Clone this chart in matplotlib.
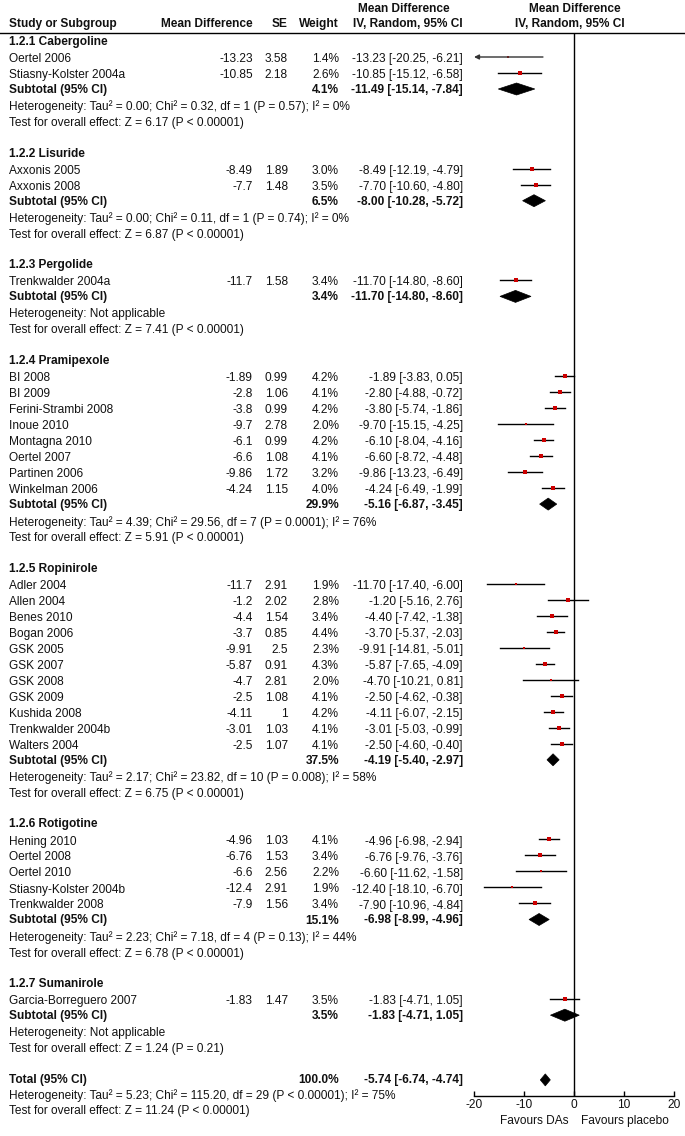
import matplotlib
matplotlib.use('Agg')
import matplotlib.pyplot as plt
from matplotlib.patches import Polygon
import numpy as np

plt.rcParams['font.family'] = ['Liberation Sans Narrow', 'Liberation Sans', 'DejaVu Sans']
plt.rcParams['axes.unicode_minus'] = False

# ---- data ----
group_titles = ['1.2.1 Cabergoline', '1.2.2 Lisuride', '1.2.3 Pergolide', '1.2.4 Pramipexole',
                '1.2.5 Ropinirole', '1.2.6 Rotigotine', '1.2.7 Sumanirole']

study_group = [0, 0,
               1, 1,
               2,
               3, 3, 3, 3, 3, 3, 3, 3,
               4, 4, 4, 4, 4, 4, 4, 4, 4, 4, 4,
               5, 5, 5, 5, 5,
               6]
study_name = ['Oertel 2006', 'Stiasny-Kolster 2004a',
              'Axxonis 2005', 'Axxonis 2008',
              'Trenkwalder 2004a',
              'BI 2008', 'BI 2009', 'Ferini-Strambi 2008', 'Inoue 2010', 'Montagna 2010',
              'Oertel 2007', 'Partinen 2006', 'Winkelman 2006',
              'Adler 2004', 'Allen 2004', 'Benes 2010', 'Bogan 2006', 'GSK 2005', 'GSK 2007',
              'GSK 2008', 'GSK 2009', 'Kushida 2008', 'Trenkwalder 2004b', 'Walters 2004',
              'Hening 2010', 'Oertel 2008', 'Oertel 2010', 'Stiasny-Kolster 2004b', 'Trenkwalder 2008',
              'Garcia-Borreguero 2007']
md = [-13.23, -10.85,
      -8.49, -7.7,
      -11.7,
      -1.89, -2.8, -3.8, -9.7, -6.1, -6.6, -9.86, -4.24,
      -11.7, -1.2, -4.4, -3.7, -9.91, -5.87, -4.7, -2.5, -4.11, -3.01, -2.5,
      -4.96, -6.76, -6.6, -12.4, -7.9,
      -1.83]
se = [3.58, 2.18,
      1.89, 1.48,
      1.58,
      0.99, 1.06, 0.99, 2.78, 0.99, 1.08, 1.72, 1.15,
      2.91, 2.02, 1.54, 0.85, 2.5, 0.91, 2.81, 1.08, 1, 1.03, 1.07,
      1.03, 1.53, 2.56, 2.91, 1.56,
      1.47]
weight = [1.4, 2.6,
          3.0, 3.5,
          3.4,
          4.2, 4.1, 4.2, 2.0, 4.2, 4.1, 3.2, 4.0,
          1.9, 2.8, 3.4, 4.4, 2.3, 4.3, 2.0, 4.1, 4.2, 4.1, 4.1,
          4.1, 3.4, 2.2, 1.9, 3.4,
          3.5]
ci_lo = [-20.25, -15.12,
         -12.19, -10.60,
         -14.80,
         -3.83, -4.88, -5.74, -15.15, -8.04, -8.72, -13.23, -6.49,
         -17.40, -5.16, -7.42, -5.37, -14.81, -7.65, -10.21, -4.62, -6.07, -5.03, -4.60,
         -6.98, -9.76, -11.62, -18.10, -10.96,
         -4.71]
ci_hi = [-6.21, -6.58,
         -4.79, -4.80,
         -8.60,
         0.05, -0.72, -1.86, -4.25, -4.16, -4.48, -6.49, -1.99,
         -6.00, 2.76, -1.38, -2.03, -5.01, -4.09, 0.81, -0.38, -2.15, -0.99, -0.40,
         -2.94, -3.76, -1.58, -6.70, -4.84,
         1.05]

sub_weight = [4.1, 6.5, 3.4, 29.9, 37.5, 15.1, 3.5]
sub_md = [-11.49, -8.00, -11.70, -5.16, -4.19, -6.98, -1.83]
sub_lo = [-15.14, -10.28, -14.80, -6.87, -5.40, -8.99, -4.71]
sub_hi = [-7.84, -5.72, -8.60, -3.45, -2.97, -4.96, 1.05]
het_text = ['Heterogeneity: Tau\u00b2 = 0.00; Chi\u00b2 = 0.32, df = 1 (P = 0.57); I\u00b2 = 0%',
            'Heterogeneity: Tau\u00b2 = 0.00; Chi\u00b2 = 0.11, df = 1 (P = 0.74); I\u00b2 = 0%',
            'Heterogeneity: Not applicable',
            'Heterogeneity: Tau\u00b2 = 4.39; Chi\u00b2 = 29.56, df = 7 (P = 0.0001); I\u00b2 = 76%',
            'Heterogeneity: Tau\u00b2 = 2.17; Chi\u00b2 = 23.82, df = 10 (P = 0.008); I\u00b2 = 58%',
            'Heterogeneity: Tau\u00b2 = 2.23; Chi\u00b2 = 7.18, df = 4 (P = 0.13); I\u00b2 = 44%',
            'Heterogeneity: Not applicable']
z_text = ['Test for overall effect: Z = 6.17 (P < 0.00001)',
          'Test for overall effect: Z = 6.87 (P < 0.00001)',
          'Test for overall effect: Z = 7.41 (P < 0.00001)',
          'Test for overall effect: Z = 5.91 (P < 0.00001)',
          'Test for overall effect: Z = 6.75 (P < 0.00001)',
          'Test for overall effect: Z = 6.78 (P < 0.00001)',
          'Test for overall effect: Z = 1.24 (P = 0.21)']

total_weight = 100.0
total_md, total_lo, total_hi = -5.74, -6.74, -4.74
total_het = 'Heterogeneity: Tau\u00b2 = 5.23; Chi\u00b2 = 115.20, df = 29 (P < 0.00001); I\u00b2 = 75%'
total_z = 'Test for overall effect: Z = 11.24 (P < 0.00001)'

xticks = [-20, -10, 0, 10, 20]

# ---- layout (pixel rows) ----
W, H = 685, 1136
FS = 8.6
x_name, x_md, x_se, x_w, x_ci = 9, 253, 288, 339, 463
y_first, y_line, y_axis = 42, 33, 1096

fig = plt.figure(figsize=(W / 100, H / 100), dpi=100)
ax = fig.add_axes([0, 0, 1, 1])
ax.set_xlim(0, W)
ax.set_ylim(H, 0)
ax.axis('off')

fa = fig.add_axes([474 / W, (H - y_axis) / H, 200 / W, (y_axis - y_line) / H])
fa.set_xlim(-20, 20)
fa.set_ylim(y_axis, y_line)
fa.patch.set_alpha(0)
for s in ['left', 'right', 'top']:
    fa.spines[s].set_visible(False)
fa.spines['bottom'].set_linewidth(1)
fa.set_yticks([])
fa.set_xticks(xticks)
fa.tick_params(axis='x', direction='in', length=3.5, width=1, labelsize=FS, pad=2,
               labelcolor='#111111')
fa.axvline(0, color='black', lw=1)

def txt(x, y, s, ha='left', bold=False):
    ax.text(x, y, s, ha=ha, va='center', fontsize=FS, color='#111111',
            fontweight='bold' if bold else 'normal')

def diamond(y, c, lo, hi, h=6):
    fa.add_patch(Polygon([[lo, y], [c, y - h], [hi, y], [c, y + h]], closed=True,
                         facecolor='black', edgecolor='black', lw=0.5))

# header
txt(x_name, 24, 'Study or Subgroup', bold=True)
txt(x_md, 24, 'Mean Difference', ha='right', bold=True)
txt(x_se, 24, 'SE', ha='right', bold=True)
txt(x_w, 24, 'Weight', ha='right', bold=True)
txt(404, 9, 'Mean Difference', ha='center', bold=True)
txt(408, 24, 'IV, Random, 95% CI', ha='center', bold=True)
txt(575, 9, 'Mean Difference', ha='center', bold=True)
txt(570, 24, 'IV, Random, 95% CI', ha='center', bold=True)
ax.plot([0, W], [y_line, y_line], color='black', lw=1)

y = y_first
for g, title in enumerate(group_titles):
    txt(x_name, y, title, bold=True)
    y += 17
    idx = [i for i in range(len(study_name)) if study_group[i] == g]
    for k, i in enumerate(idx):
        if k > 0:
            y += 16
        txt(x_name, y, study_name[i])
        txt(x_md, y, f'{md[i]:g}', ha='right')
        txt(x_se, y, f'{se[i]:g}', ha='right')
        txt(x_w, y, f'{weight[i]:.1f}%', ha='right')
        txt(x_ci, y, f'{md[i]:.2f} [{ci_lo[i]:.2f}, {ci_hi[i]:.2f}]', ha='right')
        yl = y - 2
        if ci_lo[i] < -20:
            fa.annotate('', xy=(-20, yl), xytext=(ci_hi[i], yl),
                        arrowprops=dict(arrowstyle='-|>', color='#333333', lw=1,
                                        mutation_scale=7, shrinkA=0, shrinkB=0))
        else:
            fa.plot([ci_lo[i], ci_hi[i]], [yl, yl], color='black', lw=1)
        fa.plot(md[i], yl, marker='s', color='#cc0000', ms=np.sqrt(weight[i]) * 1.4, mew=0)
    y += 15
    txt(x_name, y, 'Subtotal (95% CI)', bold=True)
    txt(x_w, y, f'{sub_weight[g]:.1f}%', ha='right', bold=True)
    txt(x_ci, y, f'{sub_md[g]:.2f} [{sub_lo[g]:.2f}, {sub_hi[g]:.2f}]', ha='right', bold=True)
    diamond(y - 1, sub_md[g], sub_lo[g], sub_hi[g])
    y += 17
    txt(x_name, y, het_text[g])
    y += 16
    txt(x_name, y, z_text[g])
    y += 30.7

txt(x_name, y, 'Total (95% CI)', bold=True)
txt(x_w, y, f'{total_weight:.1f}%', ha='right', bold=True)
txt(x_ci, y, f'{total_md:.2f} [{total_lo:.2f}, {total_hi:.2f}]', ha='right', bold=True)
diamond(y, total_md, total_lo, total_hi)
y += 16
txt(x_name, y, total_het)
y += 15
txt(x_name, y, total_z)

ax.text(569, 1121, 'Favours DAs', ha='right', va='center', fontsize=FS, color='#111111')
ax.text(581, 1121, 'Favours placebo', ha='left', va='center', fontsize=FS, color='#111111')

fig.savefig('out.png', dpi=100)
